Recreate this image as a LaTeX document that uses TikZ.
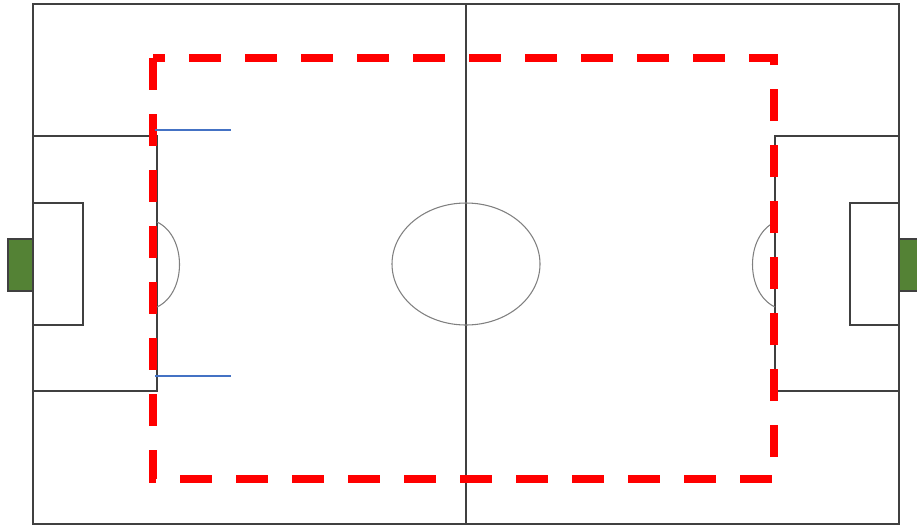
\documentclass[tikz,border=0pt]{standalone}
\usepackage{xcolor}

\definecolor{pitchline}{HTML}{404040}
\definecolor{circleline}{HTML}{808080}
\definecolor{goalgreen}{HTML}{548235}
\definecolor{markblue}{HTML}{4472C4}

\begin{document}
\begin{tikzpicture}[x=0.75pt, y=-0.75pt,
    pitch/.style={draw=pitchline, line width=1.1pt},
    arcline/.style={draw=circleline, line width=0.8pt},
    goal/.style={draw=pitchline, fill=goalgreen, line width=1.1pt},
    zone/.style={draw=red, line width=5.3pt, dash pattern=on 24pt off 18pt},
    marker/.style={draw=markblue, line width=0.9pt}]

    \useasboundingbox (0,0) rectangle (917,526);

    % goals
    \draw [goal] (8,239) rectangle (33,291);
    \draw [goal] (899,239) rectangle (925,291);

    % pitch
    \draw [pitch] (33,4) rectangle (899,524);
    \draw [pitch] (466,4) -- (466,524);
    \draw [arcline] (466,264) ellipse [x radius=74, y radius=61];

    % left penalty area
    \draw [pitch] (33,136) -- (157,136) -- (157,391) -- (33,391);
    \draw [pitch] (33,203) -- (83,203) -- (83,325) -- (33,325);
    \draw [arcline] (157,222) .. controls (187,236) and (187,293) .. (157,307);

    % right penalty area
    \draw [pitch] (899,136) -- (775,136) -- (775,391) -- (899,391);
    \draw [pitch] (899,203) -- (850,203) -- (850,325) -- (899,325);
    \draw [arcline] (775,222) .. controls (745,236) and (745,293) .. (775,307);

    % playing zone
    \draw [zone] (153,58) -- (153,479) -- (774,479) -- (774,58) -- cycle;

    % markers
    \draw [marker] (155,130) -- (231,130);
    \draw [marker] (155,376) -- (231,376);
\end{tikzpicture}
\end{document}
